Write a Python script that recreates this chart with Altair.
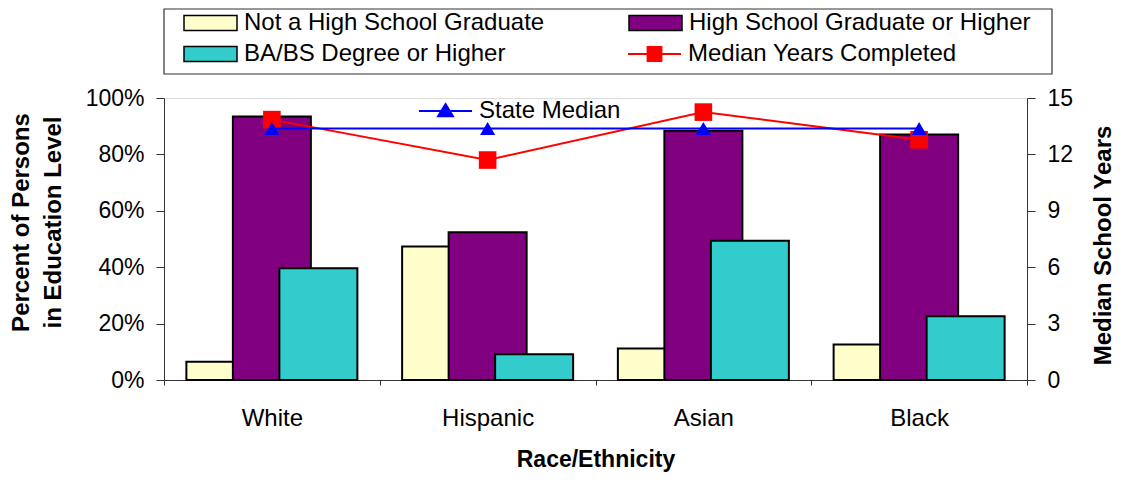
import altair as alt
import pandas as pd

categories = ["White", "Hispanic", "Asian", "Black"]
series = ["Not a High School Graduate", "High School Graduate or Higher", "BA/BS Degree or Higher"]
not_hs_grad = [0.065, 0.473, 0.112, 0.126]
hs_grad_plus = [0.934, 0.524, 0.884, 0.871]
ba_plus = [0.396, 0.091, 0.494, 0.226]
median_years = [13.85, 11.7, 14.25, 12.78]
state_median = [13.38, 13.38, 13.38, 13.38]
bar_colors = {"Not a High School Graduate": "#FFFFCC",
              "High School Graduate or Higher": "#800080",
              "BA/BS Degree or Higher": "#33CCCC"}
legend_order = ["Not a High School Graduate", "BA/BS Degree or Higher", "High School Graduate or Higher"]
pct_ticks = [0, 0.2, 0.4, 0.6, 0.8, 1.0]
year_ticks = [0, 3, 6, 9, 12, 15]

FONT = "Liberation Sans"
FS = 23
LFS = 24

rows = []
for i, c in enumerate(categories):
    for s, vals in zip(series, [not_hs_grad, hs_grad_plus, ba_plus]):
        rows.append({"Category": c, "Series": s, "Percent": vals[i]})
bars_df = pd.DataFrame(rows)
med_df = pd.DataFrame({"Category": categories, "Years": median_years,
                       "Series": ["Median Years Completed"] * 4})
state_df = pd.DataFrame({"Category": categories, "Years": state_median,
                         "Series": ["State Median"] * 4})

x_enc = alt.X(
    "Category:N", sort=categories,
    scale=alt.Scale(paddingInner=0, paddingOuter=0),
    axis=alt.Axis(title="Race/Ethnicity", labelAngle=0, tickBand="extent", tickSize=5,
                  labelPadding=21, labelFont=FONT, labelFontSize=LFS, labelColor="black",
                  titleFont=FONT, titleFontSize=FS, titleFontWeight="bold", titleColor="black",
                  titlePadding=18, domainColor="#333333", tickColor="#333333"),
)

legend_bars = alt.Legend(
    title=None, orient="none", legendX=19, legendY=-89, columns=2,
    columnPadding=83, rowPadding=3, clipHeight=28,
    symbolType="M-1,-0.283H1V0.283H-1Z", symbolSize=2809,
    symbolStrokeColor="black", symbolStrokeWidth=1.5, symbolOpacity=1,
    labelFont=FONT, labelFontSize=LFS, labelColor="black", labelOffset=6, labelLimit=0,
)

bars = alt.Chart(bars_df).mark_bar(width=78, stroke="black", strokeWidth=2, opacity=1).encode(
    x=x_enc,
    xOffset=alt.XOffset("Series:N", sort=series,
                        scale=alt.Scale(paddingInner=0, paddingOuter=0.82)),
    y=alt.Y("Percent:Q", scale=alt.Scale(domain=[0, 1]),
            axis=alt.Axis(orient="left", values=pct_ticks, format=".0%", grid=False,
                          tickSize=8, labelPadding=12, labelFont=FONT, labelFontSize=FS,
                          labelColor="black", domainColor="#333333", tickColor="#333333",
                          title=["Percent of Persons", "in Education Level"],
                          titleFont=FONT, titleFontSize=LFS, titleFontWeight="bold",
                          titleColor="black", titleAngle=270, titleBaseline="alphabetic",
                          titleLineHeight=32, titleX=-136, titleY=124, titleAlign="center")),
    color=alt.Color("Series:N",
                    scale=alt.Scale(domain=legend_order,
                                    range=[bar_colors[s] for s in legend_order]),
                    legend=legend_bars),
)

frame = alt.Chart(pd.DataFrame({"a": [0]})).mark_rect(
    fill="white", stroke="#333333", strokeWidth=1.2
).encode(
    x=alt.value(0), x2=alt.value(888), y=alt.value(-89), y2=alt.value(-24)
)

y_right = alt.Y("Years:Q", scale=alt.Scale(domain=[0, 15]),
                axis=alt.Axis(orient="right", values=year_ticks, grid=False, tickSize=8,
                              labelPadding=12, labelFont=FONT, labelFontSize=FS,
                              labelColor="black", domainColor="#333333", tickColor="#333333",
                              title="Median School Years", titleFont=FONT, titleFontSize=LFS,
                              titleFontWeight="bold", titleColor="black", titleAngle=270,
                              titleBaseline="alphabetic", titleX=83, titleY=147,
                              titleAlign="center"))

legend_med = alt.Legend(
    title=None, orient="none", legendX=463, legendY=-58, clipHeight=28,
    symbolType="M-1,0H1M-0.26,-0.26H0.26V0.26H-0.26Z", symbolSize=2809,
    symbolStrokeColor="red", symbolFillColor="red", symbolStrokeWidth=2, symbolOpacity=1,
    labelFont=FONT, labelFontSize=LFS, labelColor="black", labelOffset=6, labelLimit=0,
)
legend_state = alt.Legend(
    title=None, orient="none", legendX=254, legendY=-1, clipHeight=28,
    symbolType="M-1,0H1M0,-0.26L0.28,0.2H-0.28Z", symbolSize=2809,
    symbolStrokeColor="blue", symbolFillColor="blue", symbolStrokeWidth=2, symbolOpacity=1,
    labelFont=FONT, labelFontSize=LFS, labelColor="black", labelOffset=6, labelLimit=0,
)

med_color = alt.Color("Series:N", scale=alt.Scale(domain=["Median Years Completed"], range=["red"]),
                      legend=legend_med)
state_color = alt.Color("Series:N", scale=alt.Scale(domain=["State Median"], range=["blue"]),
                        legend=legend_state)

med_line = alt.Chart(med_df).mark_line(strokeWidth=2).encode(
    x=alt.X("Category:N", sort=categories), y=y_right, color=med_color)
med_pts = alt.Chart(med_df).mark_point(shape="square", size=310, filled=True, opacity=1).encode(
    x=alt.X("Category:N", sort=categories), y=y_right, color=med_color)
state_line = alt.Chart(state_df).mark_line(strokeWidth=2).encode(
    x=alt.X("Category:N", sort=categories), y=y_right, color=state_color)
state_pts = alt.Chart(state_df).mark_point(shape="triangle-up", size=230, filled=True, opacity=1).encode(
    x=alt.X("Category:N", sort=categories), y=y_right, color=state_color)

red_layer = alt.layer(med_line, med_pts)
blue_layer = alt.layer(state_line, state_pts)
lines = alt.layer(red_layer, blue_layer).resolve_scale(color="independent")

chart = alt.layer(frame, bars, lines).resolve_scale(
    y="independent", color="independent"
).properties(
    width=863, height=282,
    autosize=alt.AutoSizeParams(type="none"),
    padding={"left": 156, "top": 90, "right": 87, "bottom": 92},
).configure_view(strokeWidth=0).configure(background="white")

chart.save("out.html", embed_options={"renderer": "svg", "actions": False})
